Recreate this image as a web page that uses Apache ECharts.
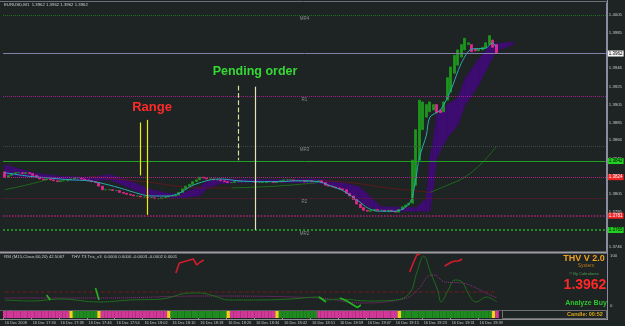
<!DOCTYPE html>
<html><head><meta charset="utf-8">
<script src="https://cdn.jsdelivr.net/npm/echarts@6/dist/echarts.min.js"></script>
<style>html,body{margin:0;padding:0;background:#1e2323;}#c{width:625px;height:326px;}</style>
</head><body><div id="c"></div>
<script>
// ---------- data ----------
const timeLabels = ['16 Dec 2008','16 Dec 17:30','16 Dec 17:38','16 Dec 17:46','16 Dec 17:54','16 Dec 18:02','16 Dec 18:10','16 Dec 18:18','16 Dec 18:26','16 Dec 18:34','16 Dec 18:42','16 Dec 18:51','16 Dec 18:59','16 Dec 19:07','16 Dec 19:15','16 Dec 19:23','16 Dec 19:31','16 Dec 19:39'];
const slotCount = 173;

const opens = [1.3830,1.3824,1.3826,1.3828,1.3829,1.3829,1.3828,1.3829,1.3828,
 1.3826,1.3824,1.3822,1.3821,1.3822,1.3821,1.3820,1.3819,
 1.3820,1.3820,1.3821,1.3822,1.3823,1.3823,1.3822,1.3821,1.3820,
 1.3819,1.3818,1.3814,1.3810,1.3810,1.3810,1.3809,1.3809,1.3807,1.3806,1.3805,1.3804,1.3803,1.3803,1.3802,1.3802,1.3801,1.3801,1.3800,1.3800,1.3801,
 1.3802,1.3803,1.3803,1.3804,1.3807,1.3811,1.3814,1.3816,1.3819,1.3821,1.3824,1.3823,
 1.3822,1.3822,1.3821,1.3821,1.3820,1.3819,1.3818,1.3818,1.3819,1.3819,1.3819,1.3819,1.3819,1.3819,1.3818,1.3818,1.3818,1.3819,1.3819,1.3818,1.3819,1.3820,1.3821,1.3821,1.3821,1.3820,1.3820,1.3820,1.3819,1.3820,1.3819,1.3819,
 1.3820,1.3818,1.3815,1.3814,1.3813,1.3812,1.3811,1.3810,1.3806,1.3803,1.3799,1.3794,1.3790,1.3787,
 1.3786,1.3787,1.3788,1.3787,1.3787,1.3786,1.3787,1.3786,1.3785,1.3788,1.3791,1.3793,
 1.3795,1.3815,1.3843,1.3877,1.3891,1.3897,1.3899,1.3905,1.3899,1.3897,1.3910,1.3919,1.3940,1.3949,1.3958,1.3966,1.3972,1.3972,1.3967,1.3965,1.3966,1.3968,1.3972,1.3977,1.3972];
const closes = [1.3824,1.3826,1.3828,1.3829,1.3829,1.3828,1.3829,1.3828,1.3826,
 1.3824,1.3822,1.3821,1.3822,1.3821,1.3820,1.3819,1.3820,
 1.3820,1.3821,1.3822,1.3823,1.3823,1.3822,1.3821,1.3820,1.3819,
 1.3818,1.3814,1.3810,1.3810,1.3810,1.3809,1.3809,1.3807,1.3806,1.3805,1.3804,1.3803,1.3803,1.3802,1.3802,1.3801,1.3801,1.3800,1.3800,1.3801,1.3802,
 1.3803,1.3803,1.3804,1.3807,1.3811,1.3814,1.3816,1.3819,1.3821,1.3824,1.3823,1.3822,
 1.3822,1.3821,1.3821,1.3820,1.3819,1.3818,1.3818,1.3819,1.3819,1.3819,1.3819,1.3819,1.3819,1.3818,1.3818,1.3818,1.3819,1.3819,1.3818,1.3819,1.3820,1.3821,1.3821,1.3821,1.3820,1.3820,1.3820,1.3819,1.3820,1.3819,1.3819,1.3820,
 1.3818,1.3815,1.3814,1.3813,1.3812,1.3811,1.3810,1.3806,1.3803,1.3799,1.3794,1.3790,1.3787,1.3786,
 1.3787,1.3788,1.3787,1.3787,1.3786,1.3787,1.3786,1.3785,1.3788,1.3791,1.3793,1.3795,
 1.3843,1.3877,1.3910,1.3908,1.3905,1.3908,1.3905,1.3896,1.3896,1.3908,1.3935,1.3947,1.3960,1.3966,1.3972,1.3979,1.3974,1.3964,1.3965,1.3967,1.3969,1.3974,1.3982,1.3969,1.3962];

const fastMA = [[0,1.3829],[7,1.3825],[13,1.3823],[19,1.3821],[24,1.3820],[27,1.3818],[33,1.3812],[39,1.3805],[42,1.3803],[47,1.3803],[50,1.3806],[54,1.3815],[59,1.3821],[62,1.3822],[67,1.3820],[73,1.3819],[79,1.3819],[84,1.3820],[90,1.3819],[93,1.3815],[97,1.3809],[102,1.3796],[104,1.3790],[107,1.3786],[112,1.3786],[114,1.3788],[116,1.3794],[117,1.3803],[118,1.3823],[119,1.3846],[121,1.3871],[122,1.3891],[125,1.3899],[128,1.3921],[131,1.3951],[134,1.3967],[138,1.3968],[140,1.3974],[141,1.3969]];

const cloudIdx = [0,8,16,25,30,36,41,47,50,56,58,62,75,90,93,97,102,106,108,118,121,122,123,124,127,130,132,136,139,141,146];
const cloudTop = [1.3838,1.3829,1.3825,1.3824,1.3827,1.3820,1.3811,1.3806,1.3805,1.3813,1.3819,1.3822,1.3821,1.3822,1.3820,1.3818,1.3813,1.3798,1.3791,1.3790,1.3800,1.3846,1.3866,1.3893,1.3905,1.3912,1.3933,1.3956,1.3970,1.3973,1.3975];
const cloudBot = [1.3826,1.3824,1.3821,1.3820,1.3821,1.3812,1.3803,1.3801,1.3801,1.3803,1.3811,1.3817,1.3819,1.3817,1.3815,1.3811,1.3796,1.3788,1.3786,1.3786,1.3786,1.3786,1.3812,1.3846,1.3868,1.3882,1.3904,1.3927,1.3950,1.3965,1.3972];

const slowUp = [[[0,1.3810],[6,1.3815],[12,1.3821]], [[65,1.3812],[78,1.3814],[90,1.3818]], [[122,1.3807],[127,1.3815],[132,1.3824],[137,1.3840],[141,1.3858]]];
const slowDown = [[[24,1.3825],[40,1.3819],[57,1.3812],[65,1.3812]], [[90,1.3820],[99,1.3818],[110,1.3812],[122,1.3807]]];

const levelPrices = [1.4005, 1.3962, 1.3914, 1.3858, 1.3842, 1.3824, 1.3801, 1.3781, 1.3765];
const levelNames  = ['MR4', '', 'R1', 'MR3', '', '', 'R2', '', 'MR2'];
const tagPrices = [1.3962, 1.3842, 1.3824, 1.3781, 1.3765];
const priceTicks = [1.4005,1.3985,1.3946,1.3925,1.3905,1.3885,1.3866,1.3845,1.3805,1.3785,1.3746];

const rangeLines = [[39,1.3885,1.3826],[41,1.3888,1.3782]];
const pendingLines = [[67,1.3926,1.3843],[72,1.3925,1.3765]];

const rsiLine = [[0,12],[8,10],[16,14],[27,8],[36,12],[45,14],[53,26],[56,26],[60,20],[64,12],[73,12],[82,14],[90,18],[92,12],[96,14],[104,10],[112,12],[116,26],[118,66],[120,100],[122,66],[124,32],[125,8],[127,32],[129,52],[131,48],[133,22],[135,8],[138,18],[139,16],[141,8]];
const rsiSignal = [[0,16],[30,16],[56,20],[90,16],[102,6],[115,16],[119,38],[121,58],[123,62],[126,48],[131,46],[135,36],[139,22],[141,16]];
const rsiLevel = [[0,28],[141,28]];
const trixRed = [[[49,66],[50,86],[51,88],[52,90],[53,92],[54,94],[55,82],[56,88],[57,92]], [[116,68],[117,86],[118,102],[119,104]], [[126,80],[128,88],[129,90],[130,90],[131,94]]];
const trixGreen = [[[12,22],[13,12]], [[26,36],[27,12]], [[90,18],[92,8]], [[96,16],[98,10],[101,-3],[102,2]]];
const rsiTicks = [0, 100];

const stripRuns = [['P',19],['Y',1],['G',7],['Y',1],['P',19],['Y',1],['G',16],['Y',1],['P',13],['Y',1],['G',11],['P',23],['Y',1],['G',26],['Y',1],['P',1]];

// ---------- build ----------
const cats = Array.from({length: slotCount}, (_, i) => String(i));
const candleData = opens.map((o, i) => [o, closes[i], Math.min(o, closes[i]), Math.max(o, closes[i])]);
const cloudSegs = [];
for (let k = 0; k < cloudIdx.length - 1; k++) cloudSegs.push([cloudIdx[k], cloudTop[k], cloudBot[k], cloudIdx[k+1], cloudTop[k+1], cloudBot[k+1]]);
const stripColors = {P:'#d4379a', G:'#1f8c1f', Y:'#f2d21a'};
const stripData = [];
stripRuns.forEach(([s, n]) => { for (let k = 0; k < n; k++) stripData.push({value: 1, itemStyle: {color: stripColors[s]}}); });

const FONT = '"Liberation Sans", Arial, sans-serif';
const levelStyles = [
  {color:'#1e6e1e', type:'dotted', width:1},
  {color:'#8080a8', type:'solid', width:1},
  {color:'#a0208a', type:'dotted', width:1},
  {color:'#3c4646', type:'dotted', width:1},
  {color:'#22a022', type:'solid', width:1},
  {color:'#b02288', type:'dotted', width:1},
  {color:'#6a1a2a', type:'dotted', width:1},
  {color:'#b0207a', type:'dotted', width:1.5},
  {color:'#228b22', type:'dotted', width:2}
];
const tagStyles = [
  {bg:'#f4f4f4', fg:'#000'},
  {bg:'#22d022', fg:'#000'},
  {bg:'#f02424', fg:'#fff'},
  {bg:'#f02424', fg:'#fff'},
  {bg:'#22d022', fg:'#000'}
];

const levelMarks = [];
levelPrices.forEach((p, k) => {
  levelMarks.push({yAxis: p, lineStyle: levelStyles[k],
    label: {show: !!levelNames[k], position: 'insideMiddleBottom', formatter: levelNames[k] || ' ', color: '#8a8a8a', fontSize: 4.5, fontFamily: FONT, distance: 1}});
});
const tagMarks = [];
tagPrices.forEach((p, k) => {
  tagMarks.push({yAxis: p, lineStyle: {color: 'rgba(0,0,0,0)', width: 0.1},
    label: {show: true, position: 'end', distance: 2, formatter: p.toFixed(4), backgroundColor: tagStyles[k].bg, color: tagStyles[k].fg, fontSize: 4.5, fontFamily: FONT, padding: [1, 1, 0, 1]}});
});
const vMarks = [];
rangeLines.forEach(([i, a, b]) => {
  vMarks.push([{coord: [i, a], lineStyle: {color: '#f0f000', width: 1.2, type: 'solid'}, label: {show: false}}, {coord: [i, b]}]);
});
pendingLines.forEach(([i, a, b], k) => {
  vMarks.push([{coord: [i, a], lineStyle: {color: k === 0 ? '#cfe0a0' : '#e4e4b8', width: 1.2, type: k === 0 ? 'dashed' : 'solid'}, label: {show: false}}, {coord: [i, b]}]);
});

const series = [];
// level lines carrier (behind)
series.push({type: 'line', xAxisIndex: 0, yAxisIndex: 0, data: [[0, 1.3829]], symbol: 'none', z: 0, lineStyle: {opacity: 0},
  markLine: {silent: true, precision: 5, symbol: ['none', 'none'], animation: false, data: levelMarks}});
series.push({
  type: 'custom', xAxisIndex: 0, yAxisIndex: 0, z: 1, silent: true,
  dimensions: [{name:'a',type:'number'},{name:'b',type:'number'},{name:'c',type:'number'},{name:'d',type:'number'},{name:'e',type:'number'},{name:'f',type:'number'}],
  encode: {x: [0, 3], y: [1, 2, 4, 5]},
  data: cloudSegs,
  renderItem: (params, api) => {
    const a = api.coord([api.value(0), api.value(1)]);
    const b = api.coord([api.value(3), api.value(4)]);
    const c = api.coord([api.value(3), api.value(5)]);
    const d = api.coord([api.value(0), api.value(2)]);
    return {type: 'polygon', shape: {points: [a, b, c, d]}, style: {fill: '#3c0c70', stroke: '#3c0c70', lineWidth: 0.6}};
  }
});
slowUp.forEach(seg => series.push({type: 'line', xAxisIndex: 0, yAxisIndex: 0, data: seg, smooth: 0.4, symbol: 'none', z: 2, lineStyle: {color: '#1c6a1c', width: 1}}));
slowDown.forEach(seg => series.push({type: 'line', xAxisIndex: 0, yAxisIndex: 0, data: seg, smooth: 0.4, symbol: 'none', z: 2, lineStyle: {color: '#5a1a1a', width: 1}}));
series.push({
  type: 'candlestick', xAxisIndex: 0, yAxisIndex: 0, data: candleData, barWidth: 2.5, z: 3,
  itemStyle: {color: '#1c961c', color0: '#e2288e', borderColor: '#1c961c', borderColor0: '#e2288e', borderWidth: 0.8}
});
series.push({type: 'line', xAxisIndex: 0, yAxisIndex: 0, data: fastMA, smooth: 0.3, symbol: 'none', z: 4, lineStyle: {color: '#28aab2', width: 1},
  markLine: {silent: true, precision: 5, symbol: ['none', 'none'], animation: false, data: tagMarks.concat(vMarks)}});

// RSI panel
series.push({type: 'line', xAxisIndex: 1, yAxisIndex: 1, data: rsiLevel, symbol: 'none', lineStyle: {color: '#6e1c1c', width: 1, type: 'dashed'}});
series.push({type: 'line', xAxisIndex: 1, yAxisIndex: 1, data: rsiSignal, smooth: 0.4, symbol: 'none', lineStyle: {color: '#9a2a86', width: 1, type: 'dotted'}});
series.push({type: 'line', xAxisIndex: 1, yAxisIndex: 1, data: rsiLine, smooth: 0.4, symbol: 'none', lineStyle: {color: '#1c6e1c', width: 1}});
trixRed.forEach(seg => series.push({type: 'line', xAxisIndex: 1, yAxisIndex: 1, data: seg, symbol: 'none', lineStyle: {color: '#d01c2c', width: 1.6}}));
trixGreen.forEach(seg => series.push({type: 'line', xAxisIndex: 1, yAxisIndex: 1, data: seg, symbol: 'none', lineStyle: {color: '#22b422', width: 1.6}}));

// strip
series.push({type: 'bar', xAxisIndex: 2, yAxisIndex: 2, data: stripData, barWidth: '100%', barCategoryGap: '0%', silent: true});

const chart = echarts.init(document.getElementById('c'), null, {renderer: 'canvas'});
chart.setOption({
  animation: false,
  backgroundColor: '#1e2323',
  grid: [
    {left: 3, right: 18, top: 3, height: 248},
    {left: 3, right: 18, top: 254, height: 55},
    {left: 3, right: 18, top: 311, height: 7}
  ],
  xAxis: [
    {type: 'category', gridIndex: 0, data: cats, show: false},
    {type: 'category', gridIndex: 1, data: cats, show: false},
    {type: 'category', gridIndex: 2, data: cats, axisLine: {show: false},
      axisTick: {show: true, interval: (i) => i % 8 === 0 && i / 8 < timeLabels.length, length: 2, lineStyle: {color: '#9a9a9a'}},
      axisLabel: {interval: (i) => i % 8 === 0 && i / 8 < timeLabels.length, formatter: (v, i) => timeLabels[i / 8] || '', align: 'left', color: '#c4c4c4', fontSize: 3.9, fontFamily: FONT, margin: 2.5}}
  ],
  yAxis: [
    {type: 'value', gridIndex: 0, position: 'right', min: 1.37416, max: 1.40184, splitLine: {show: false},
      axisLine: {show: true, lineStyle: {color: '#8c8ca0'}},
      axisTick: {show: true, customValues: priceTicks, length: 2, lineStyle: {color: '#8c8ca0'}},
      axisLabel: {customValues: priceTicks, formatter: (v) => v.toFixed(4), color: '#c8c8c8', fontSize: 4.3, fontFamily: FONT, margin: 3}},
    {type: 'value', gridIndex: 1, position: 'right', min: -6, max: 104, splitLine: {show: false},
      axisLine: {show: false}, axisTick: {show: false},
      axisLabel: {customValues: rsiTicks, color: '#c8c8c8', fontSize: 4.3, fontFamily: FONT, margin: 3}},
    {type: 'value', gridIndex: 2, min: 0, max: 1, show: false}
  ],
  series: series,
  graphic: [
    {type: 'line', silent: true, shape: {x1: 0, y1: 1.5, x2: 607, y2: 1.5}, style: {stroke: '#6e6e78', lineWidth: 1}},
    {type: 'line', silent: true, shape: {x1: 0, y1: 252.5, x2: 608, y2: 252.5}, style: {stroke: '#9c9ca2', lineWidth: 2}},
    {type: 'line', silent: true, shape: {x1: 0, y1: 310.5, x2: 607, y2: 310.5}, style: {stroke: '#5a5a60', lineWidth: 1}},
    {type: 'line', silent: true, shape: {x1: 0, y1: 319.5, x2: 608, y2: 319.5}, style: {stroke: '#8c8c92', lineWidth: 1}},
    {type: 'line', silent: true, shape: {x1: 607.5, y1: 0, x2: 607.5, y2: 320}, style: {stroke: '#8c8ca0', lineWidth: 1}},
    {type: 'rect', silent: true, shape: {x: 502.5, y: 310.5, width: 104, height: 8}, style: {fill: '#1e2323', stroke: '#707070', lineWidth: 1}},
    {type: 'text', silent: true, x: 4, y: 5, style: {text: 'EURUSD,M1  1.3962 1.3962 1.3962 1.3962', fill: '#d0d0d0', font: '4.3px ' + FONT, textVerticalAlign: 'middle'}},
    {type: 'text', silent: true, x: 4, y: 257, style: {text: 'RSI (M15,Close,60,20) 42.5067      THV T3 Trix_v3  0.0000 0.0000 -0.0003 -0.0002 0.0001', fill: '#cccccc', font: '4.3px ' + FONT, textVerticalAlign: 'middle'}},
    {type: 'text', silent: true, x: 152, y: 107, style: {text: 'Range', fill: '#ff2a2a', font: 'bold 13px ' + FONT, textAlign: 'center', textVerticalAlign: 'middle'}},
    {type: 'text', silent: true, x: 255, y: 72, style: {text: 'Pending order', fill: '#36d836', font: 'bold 12.5px ' + FONT, textAlign: 'center', textVerticalAlign: 'middle'}},
    {type: 'text', silent: true, x: 584, y: 258.5, style: {text: 'THV V 2.0', fill: '#f0a020', font: 'bold 9px ' + FONT, textAlign: 'center', textVerticalAlign: 'middle'}},
    {type: 'text', silent: true, x: 586, y: 265.5, style: {text: 'System', fill: '#c07820', font: '5px ' + FONT, textAlign: 'center', textVerticalAlign: 'middle'}},
    {type: 'text', silent: true, x: 584, y: 273.5, style: {text: '© By Cobraforex', fill: '#4fa04f', font: '4px ' + FONT, textAlign: 'center', textVerticalAlign: 'middle'}},
    {type: 'text', silent: true, x: 585, y: 285, style: {text: '1.3962', fill: '#ff2828', font: 'bold 14px ' + FONT, textAlign: 'center', textVerticalAlign: 'middle'}},
    {type: 'text', silent: true, x: 586, y: 303, style: {text: 'Analyze Buy', fill: '#2cc42c', font: 'bold 7px ' + FONT, textAlign: 'center', textVerticalAlign: 'middle'}},
    {type: 'text', silent: true, x: 585, y: 314.5, style: {text: 'Candle: 00:52', fill: '#d8a81a', font: 'bold 5.5px ' + FONT, textAlign: 'center', textVerticalAlign: 'middle'}}
  ]
});
</script>
</body></html>
